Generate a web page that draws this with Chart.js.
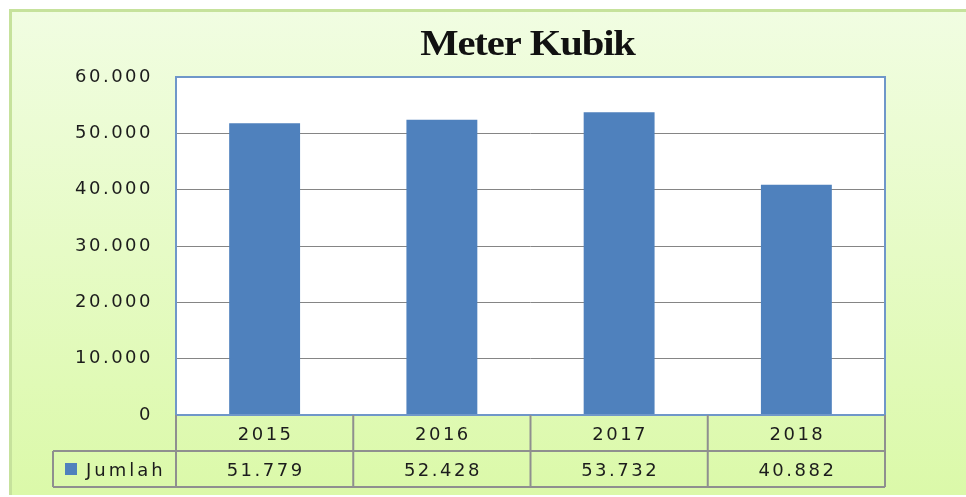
<!DOCTYPE html>
<html>
<head>
<meta charset="utf-8">
<script src="https://cdn.jsdelivr.net/npm/chart.js@4/dist/chart.umd.min.js"></script>
<style>
  html,body{margin:0;padding:0;background:#fff;}
  canvas{display:block;}
</style>
</head>
<body>
<canvas id="chartA" width="966" height="497"></canvas>
<script>
// data
const title = 'Meter Kubik';
const years = ['2015', '2016', '2017', '2018'];
const jumlah = [51779, 52428, 53732, 40882];
const seriesName = 'Jumlah';
const yTicks = [0, 10000, 20000, 30000, 40000, 50000, 60000];

const fmt = v => String(v).replace(/\B(?=(\d{3})+(?!\d))/g, '.');
const TXT = '#1c1c1c';
const FONT = '18px "DejaVu Sans"';

const frame = {
  id: 'frame',
  beforeDraw(chart) {
    const { ctx, chartArea: a } = chart;
    ctx.save();
    ctx.fillStyle = '#fff';
    ctx.fillRect(0, 0, chart.width, chart.height);
    const g = ctx.createLinearGradient(0, 9, 0, 495);
    g.addColorStop(0, '#f1fde2');
    g.addColorStop(1, '#dbf9a9');
    ctx.fillStyle = g;
    ctx.fillRect(9, 9, chart.width - 9, 486);
    ctx.strokeStyle = '#c6e29c';
    ctx.lineWidth = 3;
    ctx.beginPath();
    ctx.moveTo(10.5, 495); ctx.lineTo(10.5, 10.5); ctx.lineTo(chart.width, 10.5);
    ctx.stroke();
    ctx.fillStyle = '#fff';
    ctx.fillRect(a.left, a.top, a.right - a.left, a.bottom - a.top);
    ctx.restore();
    ctx.letterSpacing = '2.5px';
  },
  afterDraw(chart) {
    const { ctx, chartArea: a } = chart;
    const x = chart.scales.x;
    ctx.save();
    // plot border
    ctx.strokeStyle = '#6f97c9';
    ctx.lineWidth = 2;
    ctx.strokeRect(a.left, a.top, a.right - a.left, a.bottom - a.top);
    // title, stretched a little sideways like the original
    ctx.save();
    ctx.letterSpacing = '-1px';
    ctx.fillStyle = '#111';
    ctx.font = 'bold 36px "Liberation Serif"';
    ctx.textAlign = 'center';
    ctx.textBaseline = 'alphabetic';
    ctx.translate((a.left + a.right) / 2 - 3, 55);
    ctx.scale(1.13, 1);
    ctx.fillText(title, 0, 0);
    ctx.restore();
    // data table
    const rowH = 36;
    const r0 = a.bottom, r1 = r0 + rowH, r2 = r1 + rowH;
    const half = (a.right - a.left) / years.length / 2;
    const legendLeft = 53;
    ctx.strokeStyle = '#8f8f8f';
    ctx.lineWidth = 2;
    ctx.beginPath();
    ctx.moveTo(legendLeft, r1); ctx.lineTo(a.right, r1);
    ctx.moveTo(legendLeft, r2); ctx.lineTo(a.right, r2);
    ctx.moveTo(legendLeft, r1); ctx.lineTo(legendLeft, r2);
    ctx.moveTo(a.left, r0); ctx.lineTo(a.left, r2);
    years.forEach((y, i) => {
      const right = x.getPixelForValue(i) + half;
      ctx.moveTo(right, r0); ctx.lineTo(right, r2);
    });
    ctx.stroke();
    ctx.letterSpacing = '2.5px';
    ctx.font = FONT;
    ctx.fillStyle = TXT;
    ctx.textBaseline = 'middle';
    ctx.textAlign = 'center';
    years.forEach((y, i) => {
      const cx = x.getPixelForValue(i) + 1;
      ctx.fillText(y, cx, r0 + rowH / 2 + 2);
      ctx.fillText(fmt(jumlah[i]), cx, r1 + rowH / 2 + 2);
    });
    // legend key
    ctx.fillStyle = chart.data.datasets[0].backgroundColor;
    ctx.fillRect(65, r1 + 12, 12, 12);
    ctx.fillStyle = TXT;
    ctx.textAlign = 'left';
    ctx.letterSpacing = '3px';
    ctx.fillText(seriesName, 86, r1 + rowH / 2 + 2);
    ctx.restore();
  }
};

new Chart(document.getElementById('chartA'), {
  type: 'bar',
  data: {
    labels: years,
    datasets: [{ label: seriesName, data: jumlah, backgroundColor: '#4f81bd', barPercentage: 0.4, categoryPercentage: 1 }]
  },
  options: {
    responsive: false,
    devicePixelRatio: 1,
    animation: false,
    layout: { padding: { left: 0, top: 77, right: 81, bottom: 82 } },
    plugins: { legend: { display: false }, tooltip: { enabled: false }, title: { display: false } },
    scales: {
      x: { display: false },
      y: {
        min: 0, max: 60000,
        afterBuildTicks: s => { s.ticks = yTicks.map(v => ({ value: v })); },
        afterFit: s => { s.width = 176; },
        ticks: { callback: v => fmt(v), font: { family: 'DejaVu Sans', size: 18 }, color: TXT, padding: 23 },
        grid: { color: '#858585', lineWidth: 1, drawTicks: false },
        border: { display: false }
      }
    }
  },
  plugins: [frame]
});
</script>
</body>
</html>
